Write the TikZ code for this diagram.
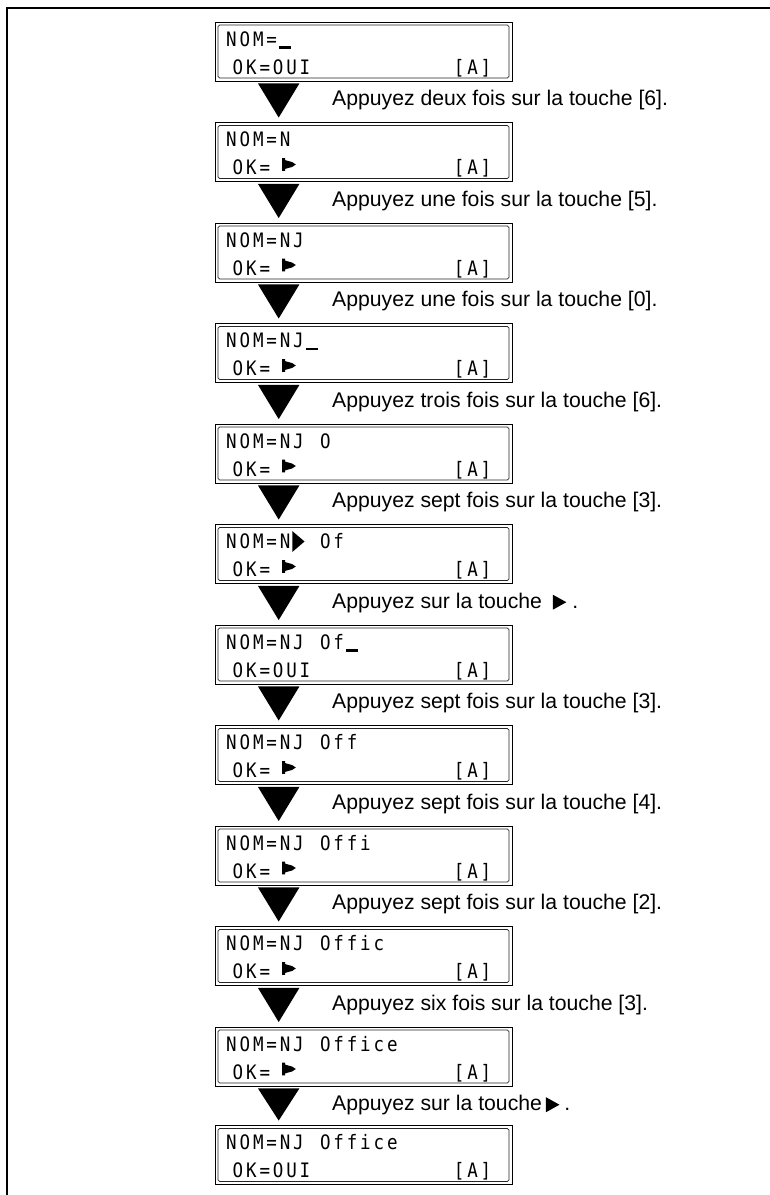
\documentclass[tikz,border=0pt]{standalone}
\usepackage{fontspec}
\usepackage{graphicx}
\setmainfont{Liberation Sans}
\newfontfamily\lcdfamily{DejaVu Sans Mono}

% fixed character pitch of the display
\newlength\lcdpitch
\setlength\lcdpitch{13.4bp}

% display glyphs that are not characters
\newcommand\lcdcur{\rule[-2.6bp]{14bp}{2.6bp}}
\newcommand\lcdtri{\tikz[baseline=0pt,x=1bp,y=1bp]\fill (0,-3.3) -- (0,17.3) -- (13.7,7) -- cycle;}
\newcommand\lcdflag{\tikz[baseline=0pt,x=1bp,y=1bp]{\path (0,0) (21.5,0);\fill (0,3.6) rectangle (3.3,16.4) (3.3,5.6) -- (11.5,7.6) -- (15.5,10) -- (11.5,12.4) -- (3.3,14.4) -- cycle;}}
\newcommand\keytri{\tikz[baseline=0pt,x=1bp,y=1bp]\fill (0,-1.7) -- (0,13.3) -- (13.5,5.8) -- cycle;}

% one display line, every character in its own cell
\makeatletter
\newcommand\lcdrow[1]{\@tfor\lcd@c:=#1\do{\makebox[\lcdpitch][c]{\scalebox{0.88}[1]{\lcd@c}}}}
\makeatother

\tikzset{
  lcdbox/.style={draw, line width=0.9bp, minimum width=297bp, minimum height=59bp, inner sep=0pt},
  lcdinner/.style={draw=black!85, line width=0.7bp, rounded corners=1.5bp},
  lcdtext/.style={anchor=base west, inner sep=0pt, font=\lcdfamily\fontsize{19.9bp}{20bp}\selectfont},
  lab/.style={anchor=base west, inner sep=0pt, font=\fontsize{21.2bp}{24bp}\selectfont},
  frame/.style={line width=2.2bp}
}

% display panel: name, top edge, first line, second line
\newcommand\panel[4]{%
  \node[lcdbox] (#1) at (363.5,#2+29.5) {};
  \draw[lcdinner] ([xshift=3.5bp,yshift=-3.5bp]#1.north west) rectangle ([xshift=-3.5bp,yshift=3.5bp]#1.south east);
  \node[lcdtext] (#1-a) at (224.6,#2+24) {\lcdrow{#3}};
  \node[lcdtext] (#1-b) at (231.1,#2+52) {\lcdrow{#4}};
  \node[lcdtext] (#1-c) at (452.3,#2+52) {\lcdrow{[A]}};
}
% big arrow from one panel down to the next
\newcommand\godown[2]{%
  \fill ([xshift=-105.5bp,yshift=-2bp]#1.south) -- ([xshift=-64.1bp,yshift=-2bp]#1.south)
     -- ([xshift=-84.8bp,yshift=4.5bp]#2.north) -- cycle;
}

\begin{document}
\begin{tikzpicture}[x=1bp,y=-1bp]
\useasboundingbox (0,0) rectangle (770,1195);
\coordinate (fb) at (7,1195);
\coordinate (fc) at (7,7.7);
\coordinate (fr) at (770,7.7);
\draw[frame] (fb) -- (fc) -- (fr);

\panel{p1}{22}{NOM=\lcdcur}{OK=OUI}
\panel{p2}{122.5}{NOM=N}{OK=~\lcdflag}
\panel{p3}{223}{NOM=NJ}{OK=~\lcdflag}
\panel{p4}{323.5}{NOM=NJ\lcdcur}{OK=~\lcdflag}
\panel{p5}{424}{NOM=NJ~O}{OK=~\lcdflag}
\panel{p6}{524.5}{NOM=N\lcdtri~Of}{OK=~\lcdflag}
\panel{p7}{625}{NOM=NJ~Of\lcdcur}{OK=OUI}
\panel{p8}{725.5}{NOM=NJ~Off}{OK=~\lcdflag}
\panel{p9}{826}{NOM=NJ~Offi}{OK=~\lcdflag}
\panel{p10}{926.5}{NOM=NJ~Offic}{OK=~\lcdflag}
\panel{p11}{1027}{NOM=NJ~Office}{OK=~\lcdflag}
\panel{p12}{1125.5}{NOM=NJ~Office}{OK=OUI}

\godown{p1}{p2}
\godown{p2}{p3}
\godown{p3}{p4}
\godown{p4}{p5}
\godown{p5}{p6}
\godown{p6}{p7}
\godown{p7}{p8}
\godown{p8}{p9}
\godown{p9}{p10}
\godown{p10}{p11}
\godown{p11}{p12}

\node[lab] (l1) at (332,105.5) {Appuyez deux fois sur la touche [6].};
\node[lab] (l2) at (332,206) {Appuyez une fois sur la touche [5].};
\node[lab] (l3) at (332,306.5) {Appuyez une fois sur la touche [0].};
\node[lab] (l4) at (332,407) {Appuyez trois fois sur la touche [6].};
\node[lab] (l5) at (332,507.5) {Appuyez sept fois sur la touche [3].};
\node[lab] (l6) at (332,608) {Appuyez sur la touche \hspace{5bp}\keytri\hspace{6bp}.};
\node[lab] (l7) at (332,708.5) {Appuyez sept fois sur la touche [3].};
\node[lab] (l8) at (332,809) {Appuyez sept fois sur la touche [4].};
\node[lab] (l9) at (332,909.5) {Appuyez sept fois sur la touche [2].};
\node[lab] (l10) at (332,1010) {Appuyez six fois sur la touche [3].};
\node[lab] (l11) at (332,1110.5) {Appuyez sur la touche\hspace{4bp}\keytri\hspace{5bp}.};
\end{tikzpicture}
\end{document}
